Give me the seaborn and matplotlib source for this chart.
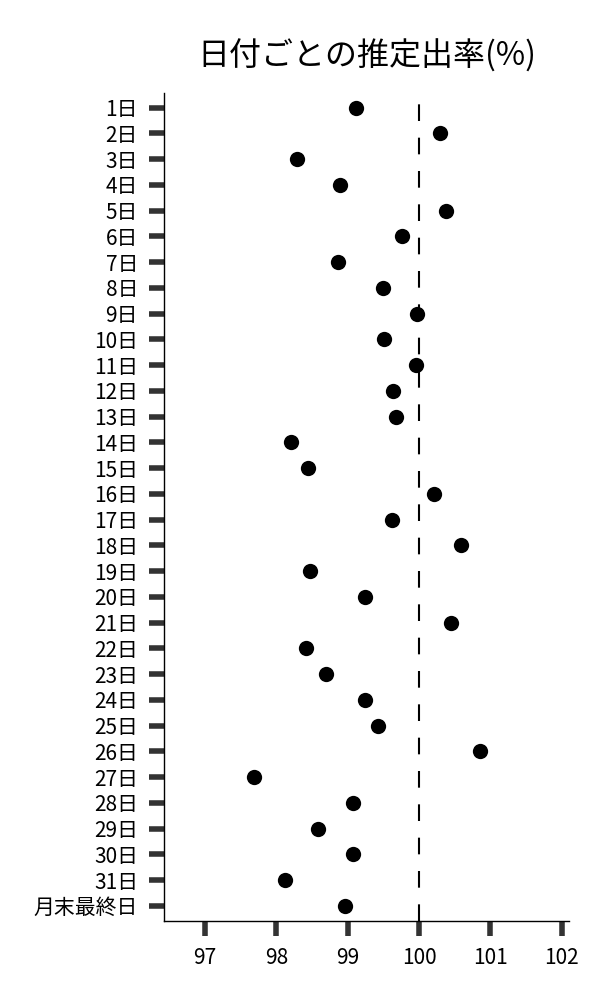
import pandas as pd
import seaborn as sns
import matplotlib.pyplot as plt

# 日付ごとの推定出率
days = [f"{i}日" for i in range(1, 32)] + ["月末最終日"]
rates = [
    99.12, 100.30, 98.29, 98.89, 100.38, 99.76, 98.87, 99.50, 99.97, 99.51,
    99.96, 99.63, 99.68, 98.20, 98.45, 100.21, 99.62, 100.59, 98.47, 99.24,
    100.45, 98.41, 98.69, 99.25, 99.42, 100.86, 97.69, 99.08, 98.58, 99.07,
    98.12, 98.96,
]
xticks = [97, 98, 99, 100, 101, 102]

df = pd.DataFrame({"day": days, "rate": rates})

sns.set_style("ticks")
plt.rcParams["font.family"] = ["Noto Sans CJK JP", "DejaVu Sans"]
plt.rcParams["text.color"] = "black"
plt.rcParams["xtick.labelcolor"] = "black"
plt.rcParams["ytick.labelcolor"] = "black"

fig = plt.figure(figsize=(6, 10), dpi=100)
ax = fig.add_axes([0.274, 0.079, 0.675, 0.828])

sns.stripplot(data=df, x="rate", y="day", order=days, jitter=False,
              color="black", size=11, ax=ax)
ax.axvline(100, color="black", lw=1.5, linestyle=(0, (8, 8)))

ax.set_xlim(96.43, 102.11)
ax.set_ylim(31.59, -0.57)
ax.set_xticks(xticks)
ax.set_xlabel("")
ax.set_ylabel("")
ax.tick_params(axis="both", length=11, width=4, color="#333333",
               pad=8, labelsize=15)
for s in ["left", "bottom"]:
    ax.spines[s].set_linewidth(1)
    ax.spines[s].set_color("black")
sns.despine(ax=ax)
ax.set_title("日付ごとの推定出率(%)", fontsize=23, pad=20, color="black")

fig.savefig("out.png", dpi=100)
